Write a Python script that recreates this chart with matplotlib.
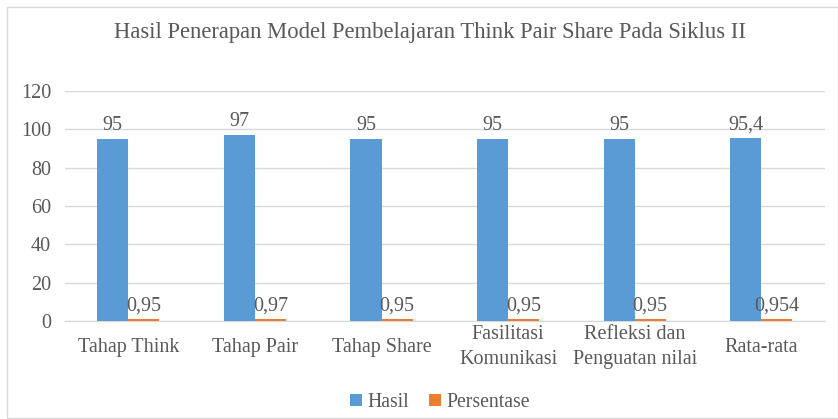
import numpy as np
import matplotlib.pyplot as plt
from matplotlib.patches import Rectangle

categories = ['Tahap Think', 'Tahap Pair', 'Tahap Share', 'Fasilitasi\nKomunikasi',
              'Refleksi dan\nPenguatan nilai', 'Rata-rata']
hasil = [95, 97, 95, 95, 95, 95.4]
persentase = [0.95, 0.97, 0.95, 0.95, 0.95, 0.954]
hasil_labels = ['95', '97', '95', '95', '95', '95,4']
persen_labels = ['0,95', '0,97', '0,95', '0,95', '0,95', '0,954']

plt.rcParams['font.family'] = ['Liberation Serif', 'DejaVu Serif']
txt = '#595959'
grid = '#D9D9D9'

fig = plt.figure(figsize=(8.38, 4.19), dpi=100)
fig.patches.append(Rectangle((7/838, 0.002), 1 - 7/838, 1 - 7/419 - 0.002,
                             transform=fig.transFigure, fill=False,
                             edgecolor=grid, linewidth=1))
ax = fig.add_axes([0.0776, 0.234, 0.9064, 0.549])

ind = np.arange(len(categories))
width = 0.245
b1 = ax.bar(ind - width/2, hasil, width, color='#5B9BD5', label='Hasil', zorder=3)
b2 = ax.bar(ind + width/2, persentase, width, color='#ED7D31', label='Persentase', zorder=3)

# data labels
for r, s in zip(b1, hasil_labels):
    ax.text(r.get_x() + r.get_width()/2, r.get_height() + 2, s,
            ha='center', va='bottom', fontsize=14.5, color=txt)
for r, s in zip(b2, persen_labels):
    ax.text(r.get_x() + r.get_width()/2, r.get_height() + 2, s,
            ha='center', va='bottom', fontsize=14.5, color=txt)

ax.set_xlim(-0.5, len(categories) - 0.5)
ax.set_ylim(0, 120)
ax.set_yticks(range(0, 121, 20))
ax.set_xticks(ind)
ax.set_xticklabels(categories)
ax.yaxis.grid(True, color=grid, linewidth=1, zorder=0)
ax.tick_params(length=0, labelsize=14.5, colors=txt)
ax.tick_params(axis='x', pad=19)
ax.tick_params(axis='y', pad=10)
for lbl in ax.get_xticklabels():
    lbl.set_va('center')
    lbl.set_linespacing(1.45)
for s in ['top', 'right', 'left']:
    ax.spines[s].set_visible(False)
ax.spines['bottom'].set_color(grid)

fig.text(0.513, 0.922, 'Hasil Penerapan Model Pembelajaran Think Pair Share Pada Siklus II',
         ha='center', va='center', fontsize=16.3, color=txt)

fig.legend(handles=[b1, b2], loc='center', bbox_to_anchor=(0.525, 0.04), ncol=2,
           frameon=False, fontsize=14.2, labelcolor=txt, handlelength=0.6,
           handleheight=0.6, handletextpad=0.3, columnspacing=1.0)

fig.savefig('out.png', dpi=100)
